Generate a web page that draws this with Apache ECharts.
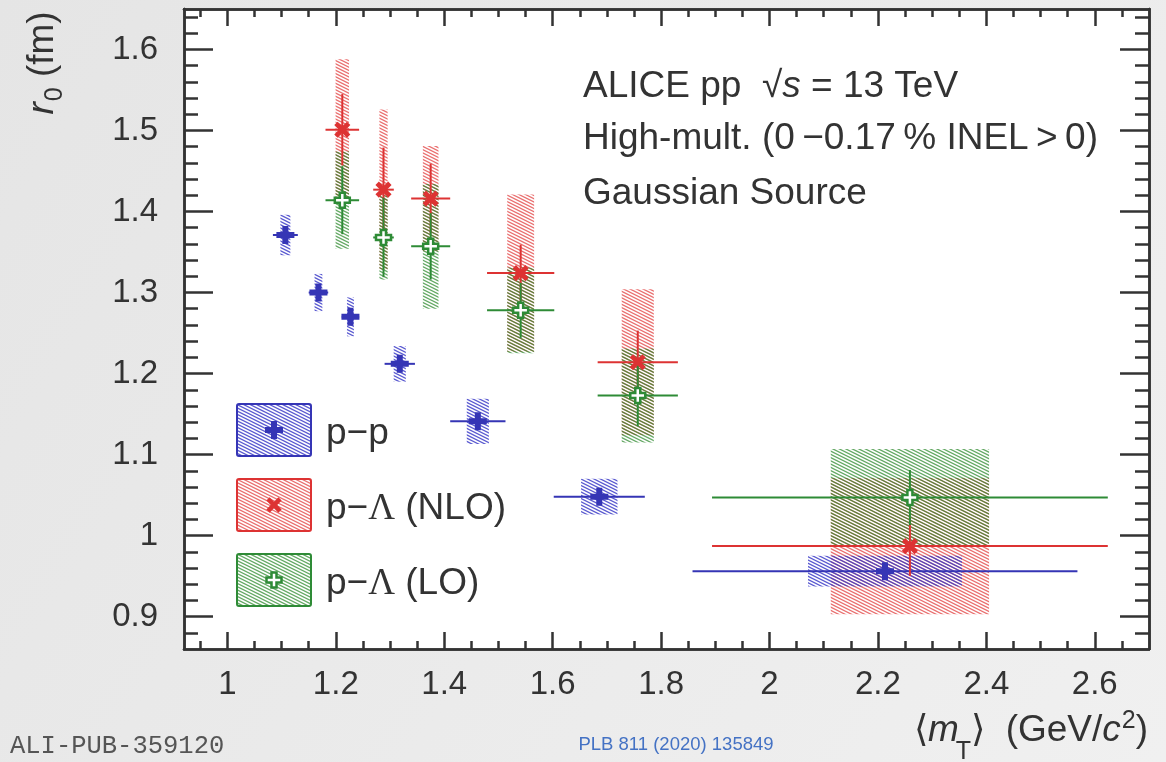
<!DOCTYPE html>
<html>
<head>
<meta charset="utf-8">
<script src="https://cdn.jsdelivr.net/npm/echarts@6/dist/echarts.min.js"></script>
<style>
  html, body { margin: 0; padding: 0; width: 1166px; height: 762px; overflow: hidden; background: #ececec; }
  #chart { width: 1166px; height: 762px; }
</style>
</head>
<body>
<div id="chart"></div>
<script>
// ---- data: source radius r0 versus <mT> ----
// p-p
const ppMt     = [1.107, 1.168, 1.227, 1.318, 1.462, 1.686, 2.213];
const ppMtErr  = [0.023, 0.018, 0.016, 0.028, 0.051, 0.084, 0.355];
const ppR0     = [1.371, 1.300, 1.270, 1.212, 1.141, 1.048, 0.956];
const ppStat   = [0.008, 0.008, 0.008, 0.007, 0.006, 0.005, 0.005];
const ppSyst   = [0.025, 0.023, 0.024, 0.022, 0.028, 0.022, 0.019];

// p-Lambda (same mT bins for both interaction models)
const pLMt     = [1.212, 1.288, 1.375, 1.541, 1.757, 2.259];
const pLMtErr  = [0.031, 0.019, 0.036, 0.062, 0.074, 0.365];
const nloR0    = [1.501, 1.427, 1.416, 1.324, 1.214, 0.987];
const nloStat  = [0.044, 0.052, 0.043, 0.035, 0.039, 0.037];
const nloSyst  = [0.087, 0.099, 0.065, 0.097, 0.090, 0.084];
const loR0     = [1.414, 1.368, 1.357, 1.278, 1.173, 1.047];
const loStat   = [0.042, 0.049, 0.041, 0.034, 0.038, 0.034];
const loSyst   = [0.060, 0.052, 0.077, 0.053, 0.058, 0.060];

// axis ticks
const xTicks      = [1, 1.2, 1.4, 1.6, 1.8, 2, 2.2, 2.4, 2.6];
const xTickLabels = ['1', '1.2', '1.4', '1.6', '1.8', '2', '2.2', '2.4', '2.6'];
const yTicks      = [0.9, 1.0, 1.1, 1.2, 1.3, 1.4, 1.5, 1.6];
const yTickLabels = ['0.9', '1', '1.1', '1.2', '1.3', '1.4', '1.5', '1.6'];

// ---- styling ----
const X_MIN = 0.92, X_MAX = 2.70, Y_MIN = 0.86, Y_MAX = 1.65;
const INK = '#333333';
const FONT = '"Liberation Sans", Arial, Helvetica, sans-serif';
const SERIF = '"Liberation Serif", "DejaVu Serif", serif';
const BLUE = '#3535b5', RED = '#dd3333', GREEN = '#2e8b36';
const BOX_FRAC = 0.4;   // systematic box half-width relative to the mT error
const TXT = 37;         // size of the titles and annotation text

function ticksBetween(a, b, step, skip) {
  const out = [];
  const n = Math.round((b - a) / step);
  for (let i = 0; i <= n; i++) {
    const v = +(a + i * step).toFixed(4);
    if (!skip.some(t => Math.abs(t - v) < 1e-6)) out.push(v);
  }
  return out;
}
const xMinor = ticksBetween(0.95, 2.65, 0.05, xTicks);
const yMinor = ticksBetween(0.88, 1.64, 0.02, yTicks);

// diagonal hatch pattern tile
function hatch(color) {
  const W = 26, H = 13;
  const c = document.createElement('canvas');
  c.width = W; c.height = H;
  const g = c.getContext('2d');
  g.strokeStyle = color;
  g.lineWidth = 1.25;
  for (let off = -2 * H; off <= 2 * H; off += H / 4) {
    g.beginPath();
    g.moveTo(-W, off - H);
    g.lineTo(2 * W, off + H * 2);
    g.stroke();
  }
  return { image: c, repeat: 'repeat' };
}
const hatchBlue  = hatch('rgba(60,60,200,0.85)');
const hatchRed   = hatch('rgba(225,55,55,0.72)');
const hatchGreen = hatch('rgba(40,135,40,0.72)');

const PLUS = 'path://M-1,-3L1,-3L1,-1L3,-1L3,1L1,1L1,3L-1,3L-1,1L-3,1L-3,-1L-1,-1Z';
const THIN_PLUS = 'path://M-0.8,-3L0.8,-3L0.8,-0.8L3,-0.8L3,0.8L0.8,0.8L0.8,3L-0.8,3L-0.8,0.8L-3,0.8L-3,-0.8L-0.8,-0.8Z';

const ppData  = ppMt.map((x, i) => [x, ppR0[i], ppMtErr[i], ppStat[i], ppSyst[i]]);
const nloData = pLMt.map((x, i) => [x, nloR0[i], pLMtErr[i], nloStat[i], nloSyst[i]]);
const loData  = pLMt.map((x, i) => [x, loR0[i], pLMtErr[i], loStat[i], loSyst[i]]);

function boxSeries(data, fill) {
  return {
    type: 'custom', data, z: 2, clip: true, silent: true,
    encode: { x: 0, y: 1 },
    renderItem(params, api) {
      const x = api.value(0), y = api.value(1);
      const hw = api.value(2) * BOX_FRAC, h = api.value(4);
      const p1 = api.coord([x - hw, y + h]);
      const p2 = api.coord([x + hw, y - h]);
      return { type: 'rect', shape: { x: p1[0], y: p1[1], width: p2[0] - p1[0], height: p2[1] - p1[1] },
               style: { fill: fill, stroke: null } };
    }
  };
}
function errSeries(data, color) {
  return {
    type: 'custom', data, z: 3, clip: true, silent: true,
    encode: { x: 0, y: 1 },
    renderItem(params, api) {
      const x = api.value(0), y = api.value(1), ex = api.value(2), ey = api.value(3);
      const l = api.coord([x - ex, y]), r = api.coord([x + ex, y]);
      const t = api.coord([x, y + ey]), b = api.coord([x, y - ey]);
      const st = { stroke: color, lineWidth: 2 };
      return { type: 'group', children: [
        { type: 'line', shape: { x1: l[0], y1: l[1], x2: r[0], y2: r[1] }, style: st },
        { type: 'line', shape: { x1: t[0], y1: t[1], x2: b[0], y2: b[1] }, style: st }
      ] };
    }
  };
}

function axisCommon(min, max) {
  return {
    type: 'value', min, max, scale: false,
    splitLine: { show: false }, minorTick: { show: false }, minorSplitLine: { show: false },
    axisPointer: { show: false }
  };
}
function xAxisDef(position, ticks, len, withLabels) {
  return Object.assign(axisCommon(X_MIN, X_MAX), {
    position,
    axisLine: { show: true, onZero: false, lineStyle: { color: INK, width: 2.5 } },
    axisTick: { show: true, inside: true, length: len, customValues: ticks, lineStyle: { color: INK, width: 2.5 } },
    axisLabel: withLabels ? {
      show: true, customValues: xTicks, margin: 19, color: INK, fontSize: 33, fontFamily: FONT,
      formatter: v => xTickLabels[xTicks.findIndex(t => Math.abs(t - v) < 1e-6)]
    } : { show: false }
  });
}
function yAxisDef(position, ticks, len, withLabels) {
  return Object.assign(axisCommon(Y_MIN, Y_MAX), {
    position,
    axisLine: { show: true, onZero: false, lineStyle: { color: INK, width: 2.5 } },
    axisTick: { show: true, inside: true, length: len, customValues: ticks, lineStyle: { color: INK, width: 2.5 } },
    axisLabel: withLabels ? {
      show: true, customValues: yTicks, margin: 26, color: INK, fontSize: 33, fontFamily: FONT,
      formatter: v => yTickLabels[yTicks.findIndex(t => Math.abs(t - v) < 1e-6)]
    } : { show: false }
  });
}

// text measuring for hand-set sub/superscripts
const measureCtx = document.createElement('canvas').getContext('2d');
function textW(str, size, italic, family) {
  measureCtx.font = (italic ? 'italic ' : '') + size + 'px ' + (family || FONT);
  return measureCtx.measureText(str).width;
}
// lays out pieces [{t, size, italic, dy}] left to right starting at local x = 0
function runPieces(pieces) {
  let x = 0;
  const els = pieces.map(p => {
    const el = { type: 'text', x: x, y: p.dy || 0, silent: true,
      style: { text: p.t, fill: INK, fontSize: p.size, fontFamily: p.family || FONT,
               fontStyle: p.italic ? 'italic' : 'normal', textAlign: 'left', textVerticalAlign: 'middle' } };
    x += textW(p.t, p.size, p.italic, p.family) + (p.after || 0);
    return el;
  });
  return { els, width: x };
}

const xTitle = runPieces([
  { t: '\u27E8', size: TXT },
  { t: 'm', size: TXT, italic: true, after: -3 },
  { t: 'T', size: 25, dy: 21 },
  { t: '\u27E9  (GeV/', size: TXT },
  { t: 'c', size: TXT, italic: true, after: 1 },
  { t: '2', size: 25, dy: -10 },
  { t: ')', size: TXT }
]);
const yTitle = runPieces([
  { t: 'r', size: TXT, italic: true, after: 1 },
  { t: '0', size: 25, dy: 12 },
  { t: ' (fm)', size: TXT }
]);

// legend marker outlines
function plusPts(cx, cy, half, t, rot) {
  const raw = [[-t,-half],[t,-half],[t,-t],[half,-t],[half,t],[t,t],[t,half],[-t,half],[-t,t],[-half,t],[-half,-t],[-t,-t]];
  const c = Math.cos(rot), s = Math.sin(rot);
  return raw.map(([x, y]) => [cx + x * c - y * s, cy + x * s + y * c]);
}

const txt = (x, y, text, extra) => ({
  type: 'text', x, y, silent: true,
  style: Object.assign({ text, fill: INK, fontSize: TXT, fontFamily: FONT, textAlign: 'left', textVerticalAlign: 'middle' }, extra || {})
});

const legendRows = [
  { y: 430, fill: hatchBlue, color: BLUE, label: '{t|p\u2212p}' },
  { y: 505, fill: hatchRed, color: RED, label: '{t|p\u2212}{g|\u039B}{t| (NLO)}' },
  { y: 580, fill: hatchGreen, color: GREEN, label: '{t|p\u2212}{g|\u039B}{t| (LO)}' }
];
const legendGraphics = [];
legendRows.forEach((row, i) => {
  legendGraphics.push({ type: 'rect', silent: true, shape: { x: 237, y: row.y - 26, width: 74, height: 52, r: 2 },
    style: { fill: row.fill, stroke: row.color, lineWidth: 2 } });
  if (i === 0) {
    legendGraphics.push({ type: 'polygon', silent: true, shape: { points: plusPts(274, row.y, 9, 3, 0) }, style: { fill: BLUE } });
  } else if (i === 1) {
    legendGraphics.push({ type: 'polygon', silent: true, shape: { points: plusPts(274, row.y, 8.5, 2.3, Math.PI / 4) }, style: { fill: RED } });
  } else {
    legendGraphics.push({ type: 'polygon', silent: true, shape: { points: plusPts(274, row.y, 7.5, 2.5, 0) }, style: { fill: '#fff', stroke: GREEN, lineWidth: 2.5 } });
  }
  legendGraphics.push(txt(326, row.y + 4, row.label, {
    rich: { t: { fontSize: TXT, fontFamily: FONT, fill: INK }, g: { fontSize: TXT, fontFamily: SERIF, fill: INK } }
  }));
});

const option = {
  animation: false,
  backgroundColor: { type: 'linear', x: 0, y: 0, x2: 1, y2: 1,
    colorStops: [{ offset: 0, color: '#e5e5e5' }, { offset: 1, color: '#f0f0f0' }] },
  grid: { left: 184, right: 17, top: 9, bottom: 113, show: true, backgroundColor: '#ffffff', borderWidth: 0, containLabel: false, outerBoundsMode: 'none' },
  xAxis: [
    xAxisDef('bottom', xTicks, 17, true),
    xAxisDef('bottom', xMinor, 8, false),
    xAxisDef('top', xTicks, 17, false),
    xAxisDef('top', xMinor, 8, false)
  ],
  yAxis: [
    yAxisDef('left', yTicks, 29, true),
    yAxisDef('left', yMinor, 14, false),
    yAxisDef('right', yTicks, 29, false),
    yAxisDef('right', yMinor, 14, false)
  ],
  series: [
    boxSeries(nloData, hatchRed),
    boxSeries(loData, hatchGreen),
    boxSeries(ppData, hatchBlue),
    errSeries(ppData, BLUE),
    errSeries(nloData, RED),
    errSeries(loData, GREEN),
    { type: 'scatter', name: 'p\u2212p', data: ppData.map(d => [d[0], d[1]]), z: 4, silent: true,
      symbol: PLUS, symbolSize: 18, itemStyle: { color: BLUE, opacity: 1 } },
    { type: 'scatter', name: 'p\u2212\u039B (NLO)', data: nloData.map(d => [d[0], d[1]]), z: 4, silent: true,
      symbol: THIN_PLUS, symbolRotate: 45, symbolSize: 18, itemStyle: { color: RED, opacity: 1 } },
    { type: 'scatter', name: 'p\u2212\u039B (LO)', data: loData.map(d => [d[0], d[1]]), z: 4, silent: true,
      symbol: PLUS, symbolSize: 15, itemStyle: { color: '#ffffff', borderColor: GREEN, borderWidth: 2.5, opacity: 1 } }
  ],
  graphic: [
    // axis titles
    { type: 'group', x: 43, y: 63 + yTitle.width / 2, rotation: Math.PI / 2, silent: true, children: yTitle.els },
    { type: 'group', x: 1148 - xTitle.width, y: 731, silent: true, children: xTitle.els },
    // physics labels
    txt(583, 87, '{n|ALICE pp  \u221A}{i|s}{n| = 13 TeV}', {
      rich: { n: { fontSize: TXT, fontFamily: FONT, fill: INK }, i: { fontSize: TXT, fontFamily: FONT, fontStyle: 'italic', fill: INK } } }),
    txt(583, 139, 'High-mult. (0\u2009\u22120.17\u2009% INEL\u2009>\u20090)'),
    txt(583, 194, 'Gaussian Source'),
    // footers
    { type: 'text', x: 10, y: 746, silent: true,
      style: { text: 'ALI-PUB-359120', fill: '#555', fontSize: 25.5, fontFamily: '"Liberation Mono", "DejaVu Sans Mono", monospace', textVerticalAlign: 'middle' } },
    { type: 'text', x: 676, y: 745, silent: true,
      style: { text: 'PLB 811 (2020) 135849', fill: '#4472c4', fontSize: 18.5, fontFamily: FONT, textAlign: 'center', textVerticalAlign: 'middle' } }
  ].concat(legendGraphics)
};

const chart = echarts.init(document.getElementById('chart'));
chart.setOption(option);
</script>
</body>
</html>
